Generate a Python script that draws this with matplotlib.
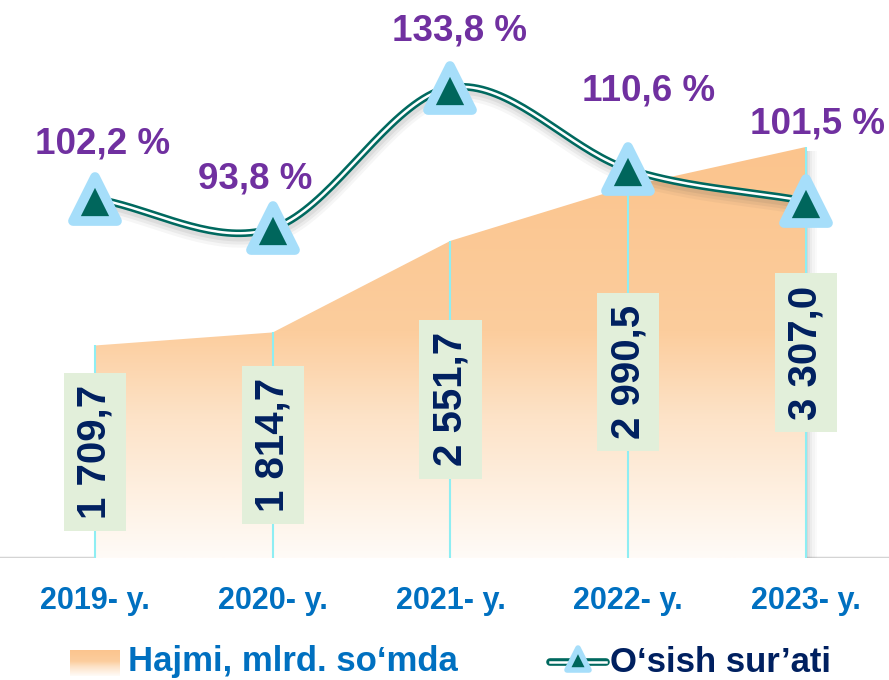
import numpy as np
import matplotlib
matplotlib.use("Agg")
import matplotlib.pyplot as plt
from matplotlib.colors import LinearSegmentedColormap
from matplotlib.patches import Polygon, Rectangle
from matplotlib.markers import MarkerStyle
from matplotlib.lines import Line2D
import matplotlib.transforms as mtransforms

plt.rcParams["font.family"] = ["Liberation Sans", "DejaVu Sans"]
plt.rcParams["font.weight"] = "bold"

# data
years = ["2019- y.", "2020- y.", "2021- y.", "2022- y.", "2023- y."]
volume = [1709.7, 1814.7, 2551.7, 2990.5, 3307.0]          # Hajmi, mlrd. so'mda
volume_labels = ["1 709,7", "1 814,7", "2 551,7", "2 990,5", "3 307,0"]
growth = [102.2, 93.8, 133.8, 110.6, 101.5]                 # O'sish sur'ati, %
growth_labels = ["102,2 %", "93,8 %", "133,8 %", "110,6 %", "101,5 %"]

# label offsets from the markers, pixels
pct_offsets = [(8, 55), (-18, 49), (9, 57), (20, 78), (12, 77)]

W, H = 889, 680
fig = plt.figure(figsize=(W / 100, H / 100), dpi=100)

# axes: baseline at y=558 px, first category at x=95 px, spacing 177.75 px
base_px = 558
x0_px, step_px = 95, 177.75
ax = fig.add_axes([0, 1 - base_px / H, 1, base_px / H])
ax.set_xlim(-x0_px / step_px, (W - x0_px) / step_px)
ax.set_ylim(0, base_px / 0.1243)
ax.axis("off")
ax2 = ax.twinx()
ax2.set_ylim(0, base_px / 3.515)
ax2.axis("off")

x = np.arange(len(years))

# area with vertical gradient, clipped to the polygon
cmap = LinearSegmentedColormap.from_list(
    "org", [(0, "#fffbf7"), (0.35, "#fde2c6"), (0.55, "#fccd9d"), (1, "#fbc48d")])
top = max(volume)
grad = np.linspace(0, 1, 256).reshape(-1, 1)
im = ax.imshow(grad, extent=[x[0], x[-1], 0, top], origin="lower",
               aspect="auto", cmap=cmap, zorder=1)
verts = [(x[0], 0)] + list(zip(x, volume)) + [(x[-1], 0)]
poly = Polygon(verts, closed=True, facecolor="none", edgecolor="none",
               transform=ax.transData)
ax.add_patch(poly)
im.set_clip_path(poly)

# soft shadow right of the area
for i, a in enumerate([0.28, 0.2, 0.13, 0.07, 0.03]):
    ax.add_patch(Rectangle((x[-1] + i * 0.012, 0), 0.012, volume[-1] - 30,
                           facecolor="#707070", alpha=a, edgecolor="none", zorder=0.9))

# baseline
ax.axhline(0, color="#d4d4d4", lw=2.5, zorder=0.8)

# drop lines
ax.vlines(x, 0, volume, color="#8eeef3", lw=1.5, zorder=2)

# value labels in boxes
for xi, v, lab in zip(x, volume, volume_labels):
    ax.text(xi, v / 2, lab, rotation=90, ha="center", va="center",
            fontsize=29, color="#002060", fontweight="bold", zorder=5,
            bbox=dict(boxstyle="square,pad=0.3", facecolor="#e2efda", edgecolor="none"))


# smooth growth line (Catmull-Rom through the points)
def catmull(px, py, n=40):
    px = np.asarray(px, float)
    py = np.asarray(py, float)
    P = np.column_stack([px, py])
    P = np.vstack([P[0] - (P[1] - P[0]), P, P[-1] + (P[-1] - P[-2])])
    out = []
    for i in range(1, len(P) - 2):
        p0, p1, p2, p3 = P[i - 1], P[i], P[i + 1], P[i + 2]
        t = np.linspace(0, 1, n)[:, None]
        seg = 0.5 * ((2 * p1) + (-p0 + p2) * t + (2 * p0 - 5 * p1 + 4 * p2 - p3) * t ** 2
                     + (-p0 + 3 * p1 - 3 * p2 + p3) * t ** 3)
        out.append(seg)
    out = np.vstack(out)
    return out[:, 0], out[:, 1]


sx, sy = catmull(x, growth)
for k, (dy, lw, a) in enumerate([(6, 12, 0.05), (5, 9, 0.07), (4, 6, 0.09)]):
    tr = mtransforms.offset_copy(ax2.transData, fig=fig, x=1, y=-dy, units="dots")
    ax2.plot(sx, sy, color="#505050", lw=lw, alpha=a, transform=tr, zorder=3,
             solid_capstyle="round")
ax2.plot(sx, sy, color="#00695f", lw=5.5, zorder=4, solid_capstyle="round")
ax2.plot(sx, sy, color="white", lw=1.8, zorder=4.1, solid_capstyle="round")

tri = MarkerStyle("^", joinstyle="round")
ax2.plot(x, growth, linestyle="none", marker=tri, ms=31, mew=7,
         mfc="#00665c", mec="#a6defa", zorder=6, clip_on=False)

for xi, g, lab, off in zip(x, growth, growth_labels, pct_offsets):
    ax2.annotate(lab, (xi, g), xytext=off, textcoords="offset pixels",
                 ha="center", va="center", fontsize=26.5, color="#7030a0",
                 fontweight="bold", zorder=7, annotation_clip=False)

# category labels
for xi, yl in zip(x, years):
    ax.annotate(yl, (xi, 0), xytext=(0, -43), textcoords="offset pixels",
                ha="center", va="center", fontsize=22, color="#0070c0",
                fontweight="bold", annotation_clip=False)

# legend (manual)
leg_y = 1 - 662 / H
lax = fig.add_axes([70 / W, 1 - 676 / H, 50 / W, 26 / H])
lax.imshow(np.linspace(0, 1, 64).reshape(-1, 1), cmap=cmap, aspect="auto",
           origin="lower", extent=[0, 1, 0, 1])
lax.axis("off")
fig.text(128 / W, leg_y, "Hajmi, mlrd. so‘mda", ha="left", va="center",
         fontsize=25, color="#0070c0", fontweight="bold")
fig.add_artist(Line2D([550 / W, 606 / W], [leg_y, leg_y], color="#00695f", lw=5.5,
                      transform=fig.transFigure, solid_capstyle="round"))
fig.add_artist(Line2D([550 / W, 606 / W], [leg_y, leg_y], color="white", lw=1.8,
                      transform=fig.transFigure))
fig.add_artist(Line2D([578 / W], [leg_y + 0.005], marker=tri, ms=16, mew=4,
                      mfc="#00665c", mec="#a6defa", transform=fig.transFigure))
fig.text(610 / W, leg_y, "O‘sish sur’ati", ha="left", va="center",
         fontsize=25, color="#002060", fontweight="bold")

fig.savefig("out.png", dpi=100)
